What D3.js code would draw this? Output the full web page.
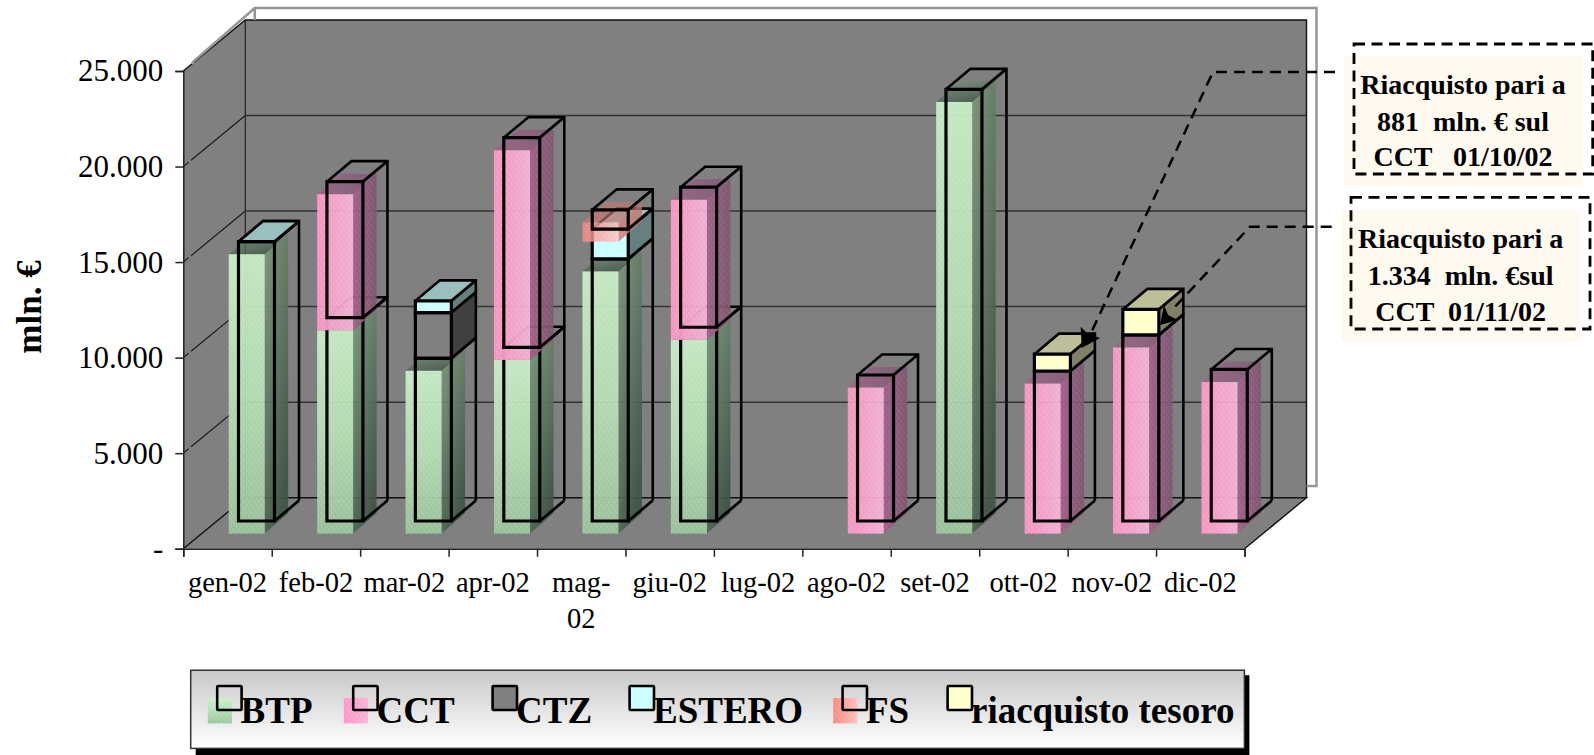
<!DOCTYPE html>
<html>
<head>
<meta charset="utf-8">
<title>Riacquisti</title>
<script src="https://cdn.jsdelivr.net/npm/d3@7"></script>
<style>
    html, body { margin: 0; padding: 0; background: #fff; overflow: hidden; }
    svg { display: block; }
    text { font-family: "Liberation Serif", serif; fill: #000; white-space: pre; }
</style>
</head>
<body>
<svg id="chart" width="1594" height="755"></svg>
<script>
// values in mln. euro, null = no entry in the sheet (0 still draws a cap)
var categories = ['gen-02', 'feb-02', 'mar-02', 'apr-02', 'mag-02', 'giu-02', 'lug-02', 'ago-02', 'set-02', 'ott-02', 'nov-02', 'dic-02'];
var btp = [14620, 10640, 8520, 9090, 13720, 10140, null, null, 22590, null, null, null];
var cct = [null, 7120, null, 10970, null, 7330, null, 7640, null, 7850, 9740, 7930];
var ctz = [null, null, 2390, null, null, null, null, null, null, null, null, null];
var estero = [0, null, 610, null, 1555, null, null, null, null, null, null, null];
var fs = [null, null, null, null, 1010, null, null, null, null, null, null, null];
var riacquisto = [null, null, null, null, null, null, null, null, null, 881, 1334, null];
var seriesNames = ['BTP', 'CCT', 'CTZ', 'ESTERO', 'FS', 'riacquisto tesoro'];
var yTicks = [0, 5000, 10000, 15000, 20000, 25000];
var yTickLabels = ['-', '5.000', '10.000', '15.000', '20.000', '25.000'];

var seriesValues = [btp, cct, ctz, estero, fs, riacquisto];

// shading of each series: textured ones only show in the shifted layer
var styles = [
    {shaded: 'Green'},
    {shaded: 'Pink'},
    {front: '#808080', top: '#606060', side: '#404040'},
    {front: '#ccffff', top: '#99bfbf', side: '#668080'},
    {shaded: 'Red'},
    {front: '#ffffcc', top: '#bfbf99', side: '#808066'}
];

var svg = d3.select('#chart');
var defs = svg.append('defs');

function gradient(id, x2, y2, stops) {
    var g = defs.append('linearGradient').attr('id', id)
        .attr('x1', 0).attr('y1', 0).attr('x2', x2).attr('y2', y2);
    stops.forEach(function(s, i) {
        g.append('stop').attr('offset', i / (stops.length - 1)).attr('stop-color', s);
    });
}
gradient('frontGreen', 0, 1, ['#c9f0c6', '#b6e0b4', '#9cc69c']);
gradient('sideGreen', 0.6, 1, ['#7f9a7f', '#5f7a64', '#3f5545']);
gradient('frontPink', 1, 0, ['#ff96c8', '#f8b4d6']);
gradient('sidePink', 1, 0, ['#a5608c', '#7d5570']);
gradient('frontRed', 1, 0, ['#f98a80', '#ffc0c0']);
gradient('sideRed', 1, 0, ['#d87870', '#b87870']);
gradient('legendBg', 0, 1, ['#c8c8c8', '#ffffff']);

var texture = defs.append('pattern').attr('id', 'texture')
    .attr('width', 5).attr('height', 7).attr('patternUnits', 'userSpaceOnUse');
texture.append('path').attr('d', 'M1 0L2 3M3.5 3.5L4.5 6.5')
    .attr('stroke', '#fff').attr('stroke-opacity', 0.22).attr('stroke-width', 1);

// plot geometry
var plotLeft = 183.3, plotRight = 1244.5, plotBottom = 548.7, plotTop = 71;
var wallX = 62, wallY = 51;
var barOffset = 55.2, barWidth = 36, barBottom = 27.7, depthX = 24.5, depthY = 20.5;
var shadeX = -9.8, shadeY = 12.6, shadeDepthX = 23.5;

var x = d3.scaleLinear().domain([0, categories.length]).range([plotLeft, plotRight]);
var y = d3.scaleLinear().domain([0, 25000]).range([plotBottom, plotTop]);

var line = d3.line();
var wall = svg.append('g');

wall.append('path')
    .attr('d', line([
        [plotLeft, plotBottom], [plotLeft, plotTop], [plotLeft + wallX, plotTop - wallY],
        [plotRight + wallX, plotTop - wallY], [plotRight + wallX, plotBottom - wallY], [plotRight, plotBottom]
    ]) + 'Z')
    .attr('fill', '#808080');

// grey frame behind the top and right of the plot
svg.append('path')
    .attr('d', line([
        [plotLeft + 9.5, plotTop - 7], [plotLeft + 9.5, plotTop - 9], [plotLeft + wallX + 9.5, 8],
        [plotRight + wallX + 10, 8], [plotRight + wallX + 10, 486], [plotRight + wallX, 486]
    ]) + 'M' + (plotLeft + wallX + 9.5) + ' 8V' + (plotTop - wallY))
    .attr('fill', 'none').attr('stroke', '#969696').attr('stroke-width', 2.5);

yTicks.forEach(function(t) {
    var yy = y(t);
    if (t > 0 && t < 25000) {
        wall.append('path')
            .attr('d', line([[plotLeft, yy], [plotLeft + wallX, yy - wallY]]))
            .attr('stroke', '#1c1c1c').attr('stroke-width', 1.2).attr('fill', 'none')
            .attr('stroke-dasharray', '7 3 400');
        wall.append('line')
            .attr('x1', plotLeft + wallX).attr('x2', plotRight + wallX)
            .attr('y1', yy - wallY).attr('y2', yy - wallY)
            .attr('stroke', '#333').attr('stroke-width', 1.5);
    }
});

wall.append('path')
    .attr('d', 'M' + (plotLeft + wallX) + ' ' + (plotTop - wallY) + 'V' + (plotBottom - wallY))
    .attr('stroke', '#333').attr('stroke-width', 1.5);
wall.append('path')
    .attr('d', line([[plotLeft, plotBottom], [plotLeft + wallX, plotBottom - wallY], [plotRight + wallX, plotBottom - wallY], [plotRight, plotBottom]]))
    .attr('stroke', '#111').attr('stroke-width', 1.4).attr('fill', 'none');
wall.append('path')
    .attr('d', line([[plotLeft, plotTop], [plotLeft + wallX, plotTop - wallY], [plotRight + wallX, plotTop - wallY], [plotRight + wallX, plotBottom - wallY]]))
    .attr('stroke', '#111').attr('stroke-width', 1.4).attr('fill', 'none');

// stacked segments, nulls skipped so only real entries get a box
var segments = [];
categories.forEach(function(cat, i) {
    var total = 0;
    seriesValues.forEach(function(values, s) {
        var v = values[i];
        if (v === null) {
            return;
        }
        segments.push({i: i, s: s, y0: total, y1: total + v, style: styles[s]});
        total += v;
    });
});

function box(d) {
    var left = x(d.i) + barOffset,
        bottom = y(d.y0) - barBottom,
        top = y(d.y1) - barBottom;
    return {left: left, right: left + barWidth, bottom: bottom, top: top};
}

var bars = svg.append('g');

// painted series by series, so each one sits over the stack below it
segments.forEach(function(d) {
    var b = box(d), st = d.style;
    var topFace = [[b.left, b.top], [b.left + depthX, b.top - depthY], [b.right + depthX, b.top - depthY], [b.right, b.top]];
    var sideFace = [[b.right, b.top], [b.right + depthX, b.top - depthY], [b.right + depthX, b.bottom - depthY], [b.right, b.bottom]];
    if (st.front) {
        bars.append('rect').attr('x', b.left).attr('y', b.top)
            .attr('width', barWidth).attr('height', b.bottom - b.top).attr('fill', st.front);
        bars.append('path').attr('d', line(sideFace) + 'Z').attr('fill', st.side);
        bars.append('path').attr('d', line(topFace) + 'Z').attr('fill', st.top);
    }
    bars.append('path')
        .attr('d', line([[b.left, b.top], [b.left + depthX, b.top - depthY], [b.right + depthX, b.top - depthY], [b.right + depthX, b.bottom - depthY]]))
        .attr('fill', 'none').attr('stroke', '#000').attr('stroke-width', 2.6);

    if (st.shaded) {
        var name = st.shaded;
        var left = b.left + shadeX, right = left + barWidth, top = b.top + shadeY, bottom = b.bottom + shadeY;
        var g = bars.append('g').attr('opacity', name === 'Red' ? 0.8 : 0.93);
        var side = line([[right, top], [right + shadeDepthX, top - depthY], [right + shadeDepthX, bottom - depthY], [right, bottom]]) + 'Z';
        var cap = line([[left, top], [left + shadeDepthX, top - depthY], [right + shadeDepthX, top - depthY], [right, top]]) + 'Z';
        g.append('path').attr('d', side).attr('fill', 'url(#side' + name + ')');
        if (name === 'Pink') {
            g.append('path').attr('d', side).attr('fill', 'url(#texture)').attr('opacity', 0.5);
        }
        g.append('path').attr('d', cap).attr('fill', 'url(#side' + name + ')').attr('fill-opacity', 0.8);
        g.append('rect').attr('x', left).attr('y', top).attr('width', barWidth).attr('height', bottom - top)
            .attr('fill', 'url(#front' + name + ')');
        g.append('rect').attr('x', left).attr('y', top).attr('width', barWidth).attr('height', bottom - top)
            .attr('fill', 'url(#texture)');
    }

    bars.append('path')
        .attr('d', line([[b.left, b.bottom], [b.left, b.top], [b.right, b.top], [b.right, b.bottom]]) + 'Z')
        .attr('fill', 'none').attr('stroke', '#000').attr('stroke-width', 3.2);
    bars.append('path')
        .attr('d', line([[b.right, b.top], [b.right + depthX, b.top - depthY]]) + 'M' + b.right + ' ' + b.bottom + 'L' + (b.right + depthX) + ' ' + (b.bottom - depthY))
        .attr('fill', 'none').attr('stroke', '#000').attr('stroke-width', 2.8);
});

// axes
var yAxis = d3.axisLeft(y).tickValues(yTicks).tickSize(8).tickPadding(12)
    .tickFormat(function(d) { return yTickLabels[yTicks.indexOf(d)]; });
var yG = svg.append('g').attr('transform', 'translate(' + plotLeft + ',0)').call(yAxis);
yG.selectAll('text').style('font-size', '31px').style('font-family', '"Liberation Serif", serif');
yG.selectAll('line, path').attr('stroke', '#222').attr('stroke-width', 1.5);

var xAxis = d3.axisBottom(x).tickValues(d3.range(categories.length + 1)).tickSize(8).tickFormat('');
var xG = svg.append('g').attr('transform', 'translate(0,' + plotBottom + ')').call(xAxis);
xG.selectAll('line, path').attr('stroke', '#222').attr('stroke-width', 1.5);

categories.forEach(function(cat, i) {
    // the narrow slot wraps this label
    var lines = cat === 'mag-02' ? ['mag-', '02'] : [cat];
    lines.forEach(function(l, k) {
        svg.append('text').attr('x', x(i + 0.5)).attr('y', 591.7 + k * 36)
            .attr('text-anchor', 'middle').style('font-size', '28.5px').text(l);
    });
});

svg.append('text')
    .attr('transform', 'translate(40.5,307) rotate(-90)')
    .attr('text-anchor', 'middle')
    .style('font-size', '35px').style('font-weight', 'bold')
    .text('mln. €');

// callouts
var notes = [
    {
        bg: [1344, 56, 239, 130.7], frame: [1354, 44, 238.7, 130],
        cx: 1463, rows: ['Riacquisto pari a', '881  mln. € sul', 'CCT   01/10/02'], base: [93.7, 131, 166],
        leader: [[1335, 72], [1213, 72], [1090, 335]],
        arrow: [[1081.7, 348], [1080.7, 326.7], [1088, 334], [1100, 338]]
    },
    {
        bg: [1341, 210, 239, 131.7], frame: [1351, 197.3, 239, 131.7],
        cx: 1460.6, rows: ['Riacquisto pari a', '1.334  mln. €sul', 'CCT  01/11/02'], base: [247.7, 285, 320.7],
        leader: [[1331.7, 226.7], [1250, 226.7], [1172, 310]],
        arrow: [[1160, 325], [1164, 305], [1168, 315], [1178, 320]]
    }
];
notes.forEach(function(n) {
    svg.append('rect').attr('x', n.bg[0]).attr('y', n.bg[1]).attr('width', n.bg[2]).attr('height', n.bg[3])
        .attr('fill', '#fffaf0');
    svg.append('rect').attr('x', n.frame[0]).attr('y', n.frame[1]).attr('width', n.frame[2]).attr('height', n.frame[3])
        .attr('fill', 'none').attr('stroke', '#000').attr('stroke-width', 2.8).attr('stroke-dasharray', '11 6.5');
    svg.append('path').attr('d', line(n.leader))
        .attr('fill', 'none').attr('stroke', '#000').attr('stroke-width', 2.5).attr('stroke-dasharray', '11 7');
    svg.append('path').attr('d', line(n.arrow) + 'Z').attr('fill', '#000');
    n.rows.forEach(function(r, k) {
        svg.append('text').attr('x', n.cx).attr('y', n.base[k]).attr('text-anchor', 'middle')
            .style('font-size', '28px').style('font-weight', 'bold').text(r);
    });
});

// legend
var legendLeft = 190.7, legendTop = 670.2, legendW = 1053.7, legendH = 78.2;
var legendText = [240.6, 376.6, 516, 653, 866, 971];
var legend = svg.append('g');
legend.append('rect').attr('x', legendLeft + 5).attr('y', legendTop + 5).attr('width', legendW).attr('height', legendH + 5)
    .attr('fill', '#000');
legend.append('rect').attr('x', legendLeft).attr('y', legendTop).attr('width', legendW).attr('height', legendH)
    .attr('fill', 'url(#legendBg)').attr('stroke', '#333').attr('stroke-width', 1.5);

seriesNames.forEach(function(name, s) {
    var st = styles[s], tx = legendText[s];
    if (st.shaded) {
        legend.append('rect').attr('x', tx - 32.8).attr('y', 698).attr('width', 24.2).attr('height', 25.4)
            .attr('fill', 'url(#front' + st.shaded + ')');
        legend.append('rect').attr('x', tx - 32.8).attr('y', 698).attr('width', 24.2).attr('height', 25.4)
            .attr('fill', 'url(#texture)');
    }
    legend.append('rect').attr('x', tx - 23.4).attr('y', 686).attr('width', 24.4).attr('height', 24).attr('rx', 1)
        .attr('fill', st.front || 'none').attr('stroke', '#000').attr('stroke-width', 2.6);
    legend.append('text').attr('x', tx).attr('y', 723)
        .style('font-size', '37px').style('font-weight', 'bold').text(name);
});
</script>
</body>
</html>
